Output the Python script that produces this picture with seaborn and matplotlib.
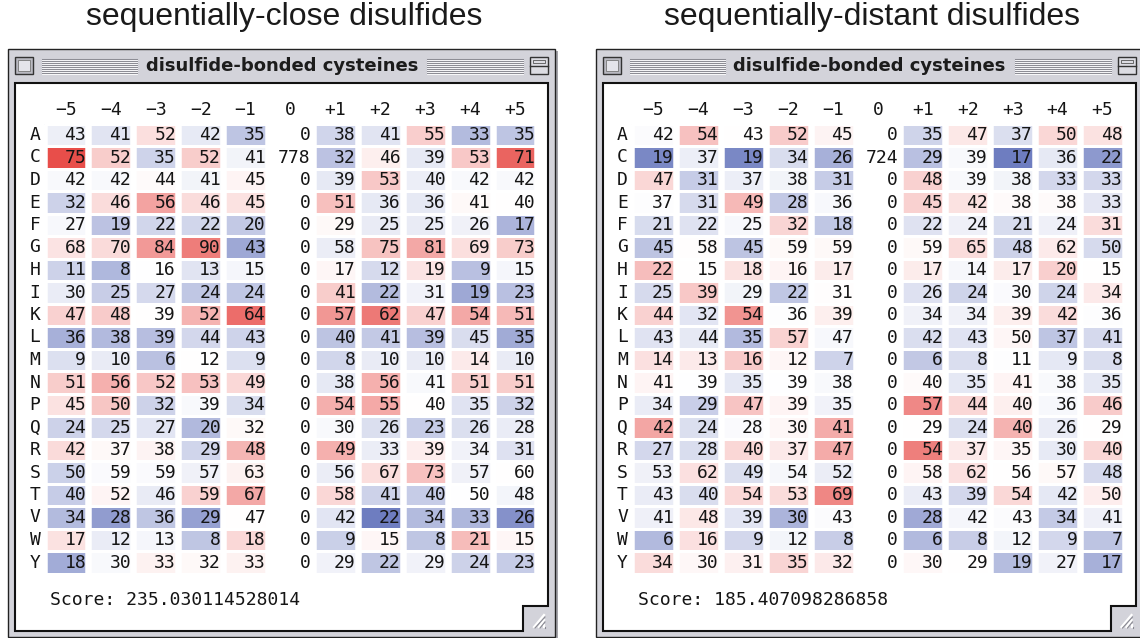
import numpy as np
import pandas as pd
import seaborn as sns
import matplotlib
matplotlib.use("Agg")
import matplotlib.pyplot as plt
from matplotlib.patches import Rectangle, Polygon
from matplotlib.colors import LinearSegmentedColormap

# ---------------------------------------------------------------- data
residues = list("ACDEFGHIKLMNPQRSTVWY")
positions = ["−5", "−4", "−3", "−2", "−1", "0", "+1", "+2", "+3", "+4", "+5"]

close_counts = [
    [43, 41, 52, 42, 35, 0, 38, 41, 55, 33, 35],
    [75, 52, 35, 52, 41, 778, 32, 46, 39, 53, 71],
    [42, 42, 44, 41, 45, 0, 39, 53, 40, 42, 42],
    [32, 46, 56, 46, 45, 0, 51, 36, 36, 41, 40],
    [27, 19, 22, 22, 20, 0, 29, 25, 25, 26, 17],
    [68, 70, 84, 90, 43, 0, 58, 75, 81, 69, 73],
    [11, 8, 16, 13, 15, 0, 17, 12, 19, 9, 15],
    [30, 25, 27, 24, 24, 0, 41, 22, 31, 19, 23],
    [47, 48, 39, 52, 64, 0, 57, 62, 47, 54, 51],
    [36, 38, 39, 44, 43, 0, 40, 41, 39, 45, 35],
    [9, 10, 6, 12, 9, 0, 8, 10, 10, 14, 10],
    [51, 56, 52, 53, 49, 0, 38, 56, 41, 51, 51],
    [45, 50, 32, 39, 34, 0, 54, 55, 40, 35, 32],
    [24, 25, 27, 20, 32, 0, 30, 26, 23, 26, 28],
    [42, 37, 38, 29, 48, 0, 49, 33, 39, 34, 31],
    [50, 59, 59, 57, 63, 0, 56, 67, 73, 57, 60],
    [40, 52, 46, 59, 67, 0, 58, 41, 40, 50, 48],
    [34, 28, 36, 29, 47, 0, 42, 22, 34, 33, 26],
    [17, 12, 13, 8, 18, 0, 9, 15, 8, 21, 15],
    [18, 30, 33, 32, 33, 0, 29, 22, 29, 24, 23],
]

distant_counts = [
    [42, 54, 43, 52, 45, 0, 35, 47, 37, 50, 48],
    [19, 37, 19, 34, 26, 724, 29, 39, 17, 36, 22],
    [47, 31, 37, 38, 31, 0, 48, 39, 38, 33, 33],
    [37, 31, 49, 28, 36, 0, 45, 42, 38, 38, 33],
    [21, 22, 25, 32, 18, 0, 22, 24, 21, 24, 31],
    [45, 58, 45, 59, 59, 0, 59, 65, 48, 62, 50],
    [22, 15, 18, 16, 17, 0, 17, 14, 17, 20, 15],
    [25, 39, 29, 22, 31, 0, 26, 24, 30, 24, 34],
    [44, 32, 54, 36, 39, 0, 34, 34, 39, 42, 36],
    [43, 44, 35, 57, 47, 0, 42, 43, 50, 37, 41],
    [14, 13, 16, 12, 7, 0, 6, 8, 11, 9, 8],
    [41, 39, 35, 39, 38, 0, 40, 35, 41, 38, 35],
    [34, 29, 47, 39, 35, 0, 57, 44, 40, 36, 46],
    [42, 24, 28, 30, 41, 0, 29, 24, 40, 26, 29],
    [27, 28, 40, 37, 47, 0, 54, 37, 35, 30, 40],
    [53, 62, 49, 54, 52, 0, 58, 62, 56, 57, 48],
    [43, 40, 54, 53, 69, 0, 43, 39, 54, 42, 50],
    [41, 48, 39, 30, 43, 0, 28, 42, 43, 34, 41],
    [6, 16, 9, 12, 8, 0, 6, 8, 12, 9, 7],
    [34, 30, 31, 35, 32, 0, 30, 29, 19, 27, 17],
]

# background residue frequencies used for the expected counts
background_freq = [0.0591, 0.0553, 0.0553, 0.0514, 0.0360, 0.0797, 0.0206,
                   0.0424, 0.0501, 0.0668, 0.0154, 0.0540, 0.0514, 0.0398,
                   0.0463, 0.0771, 0.0643, 0.0604, 0.0180, 0.0398]

scores = ["235.030114528014", "185.407098286858"]
panel_titles = ["sequentially-close disulfides", "sequentially-distant disulfides"]
window_title = "disulfide-bonded cysteines"

# ---------------------------------------------------------------- style
W, H = 1140, 638
DPI = 100
MONO = "DejaVu Sans Mono"
FS = 13
FRAME = "#d3d3da"
INK = "#151515"
cmap = LinearSegmentedColormap.from_list("enrich", ["#6474bc", "#ffffff", "#e74a46"])
center_col = positions.index("0")


def enrichment(counts):
    """Map each count to [0, 1]: 0.5 = expected, >0.5 enriched, <0.5 depleted."""
    df = pd.DataFrame(counts, index=residues, columns=positions, dtype=float)
    total = df.loc["C", "0"]
    expected = np.array(background_freq)[:, None] * total
    z = (df.values - expected) / np.sqrt(expected)
    t = np.where(z > 0, 0.5 + 0.5 * z / 5.0, 0.5 + 0.5 * z / 3.9)
    return df, pd.DataFrame(np.clip(t, 0, 1), index=residues, columns=positions)


fig = plt.figure(figsize=(W / DPI, H / DPI), dpi=DPI)
bg = fig.add_axes([0, 0, 1, 1])
bg.set_xlim(0, W)
bg.set_ylim(H, 0)
bg.set_axis_off()

col_w, row_h = 44.9, 22.5
grid_left0, grid_top = 43.55, 123.75


def draw_window(ox, title):
    # outer frame with a soft shadow
    bg.add_patch(Rectangle((ox + 10, 51), 548, 592, facecolor="#a4a4aa", edgecolor="none", zorder=0))
    bg.add_patch(Rectangle((ox + 8, 49), 547, 588, facecolor=FRAME, edgecolor="#222222", lw=1.0, zorder=1))
    # close box
    bg.add_patch(Rectangle((ox + 15, 57), 18, 17, facecolor="#b9b9c1", edgecolor="#333333", lw=1.0, zorder=2))
    bg.add_patch(Rectangle((ox + 18, 60), 12, 11, facecolor="#e4e4ea", edgecolor="#777777", lw=0.6, zorder=2))
    # zoom box
    bg.add_patch(Rectangle((ox + 530, 57), 18, 17, facecolor="#dcdce2", edgecolor="#333333", lw=1.0, zorder=2))
    bg.plot([ox + 530, ox + 548], [65.5, 65.5], color="#333333", lw=1.0, zorder=3)
    bg.add_patch(Rectangle((ox + 533, 60), 12, 3, facecolor="none", edgecolor="#555555", lw=0.6, zorder=3))
    # title bar stripes
    for x0, x1 in [(42, 137), (427, 523)]:
        for k in range(8):
            y = 58.5 + 2 * k
            bg.plot([ox + x0, ox + x1], [y, y], color="#8d8d95", lw=0.75, zorder=2)
            bg.plot([ox + x0, ox + x1], [y + 1, y + 1], color="#ffffff", lw=0.6, zorder=2)
    bg.text(ox + 282, 66, title, ha="center", va="center", fontsize=13, fontweight="bold",
            family="DejaVu Sans", color="#1c1c1c", zorder=3)
    # content area with grow-box notch
    pts = [(ox + 15, 83), (ox + 548, 83), (ox + 548, 606), (ox + 523, 606), (ox + 523, 631), (ox + 15, 631)]
    bg.add_patch(Polygon(pts, closed=True, facecolor="white", edgecolor="#111111", lw=1.5, zorder=2))
    for d in range(3):
        a = 6 + 5 * d
        bg.plot([ox + 544 - a + 6, ox + 544 + 0], [627, 627 - a + 6 - 2], color="#ffffff", lw=1.6, zorder=3)
        bg.plot([ox + 544 - a + 7, ox + 545], [628, 628 - a + 5], color="#8a8a92", lw=0.8, zorder=3)


for p, counts in enumerate([close_counts, distant_counts]):
    ox = 587.5 * p
    draw_window(ox, window_title)
    bg.text(ox + 284, 17, panel_titles[p], ha="center", va="center", fontsize=23,
            family="Liberation Sans", color="#1a1a1a")

    df, shade = enrichment(counts)
    mask = np.zeros(shade.shape, dtype=bool)
    mask[:, center_col] = True

    left_px = grid_left0 + ox
    ax = fig.add_axes([left_px / W, 1 - (grid_top + 20 * row_h) / H,
                       11 * col_w / W, 20 * row_h / H])
    sns.heatmap(shade, mask=mask, cmap=cmap, vmin=0, vmax=1, cbar=False,
                xticklabels=False, yticklabels=False, linewidths=0, ax=ax)
    ax.set_zorder(5)
    # white gutters between cells
    ax.vlines(np.arange(12), 0, 20, colors="white", lw=6.5 * 72 / DPI)
    ax.hlines(np.arange(21), 0, 11, colors="white", lw=3.0 * 72 / DPI)
    ax.set_xlim(0, 11)
    ax.set_ylim(20, 0)
    ax.set_axis_off()

    for i, res in enumerate(residues):
        ax.text((35 - 43.55) / col_w, i + 0.5, res, ha="center", va="center",
                family=MONO, fontsize=FS, color=INK, clip_on=False)
        for j, pos in enumerate(positions):
            v = int(df.iloc[i, j])
            ax.text(j + 0.95, i + 0.52, str(v), ha="right", va="center",
                    family=MONO, fontsize=FS, color=INK, clip_on=False)
    for j, pos in enumerate(positions):
        ax.text(j + 0.5, -0.62, pos, ha="center", va="center",
                family=MONO, fontsize=FS, color=INK, clip_on=False)
    ax.text((50 - 43.55) / col_w, (600 - grid_top) / row_h, "Score: " + scores[p],
            ha="left", va="center", family=MONO, fontsize=FS, color=INK, clip_on=False)

fig.savefig("out.png", dpi=DPI, facecolor="white")
